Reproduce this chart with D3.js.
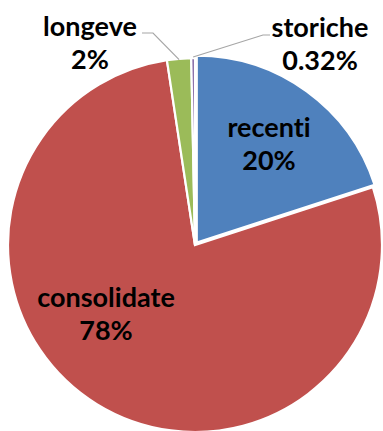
<!DOCTYPE html>
<html>
<head>
<meta charset="utf-8">
<script src="https://cdn.jsdelivr.net/npm/d3@7"></script>
<style>
  html, body { margin: 0; padding: 0; background: #fff; }
  svg { display: block; }
  text { font-variant-ligatures: none; font-feature-settings: "liga" 0; }
</style>
</head>
<body>
<svg id="chart" width="383" height="431"></svg>
<script>
// ---- data ----
const categories = ["recenti", "consolidate", "longeve", "storiche"];
const values = [20.0, 77.6, 2.08, 0.32];          // percent
const valueLabels = ["20%", "78%", "2%", "0.32%"];
const colors = ["#4f81bd", "#c0504d", "#9bbb59", "#8064a2"];

// ---- layout ----
const W = 383, H = 431;
const cx = 195, cy = 245, R = 187;
const explode = [3, 0, 0, 0];

const svg = d3.select("#chart");
const g = svg.append("g").attr("transform", `translate(${cx},${cy})`);

const pie = d3.pie().sort(null).value(d => d.v);
const data = categories.map((c, i) => ({ c, v: values[i], lab: valueLabels[i], col: colors[i], ex: explode[i] }));
const arcs = pie(data);
const arc = d3.arc().innerRadius(0).outerRadius(R);

g.selectAll("path.slice")
  .data(arcs)
  .join("path")
  .attr("class", "slice")
  .attr("d", arc)
  .attr("fill", d => d.data.col)
  .attr("stroke", "#fff")
  .attr("stroke-width", 2.2)
  .attr("stroke-linejoin", "miter")
  .attr("transform", d => {
    const a = (d.startAngle + d.endAngle) / 2;
    return `translate(${Math.sin(a) * d.data.ex},${-Math.cos(a) * d.data.ex})`;
  });

// label anchor positions (absolute, centre of text block)
const labelPos = {
  recenti: [269, 137],
  consolidate: [106, 307],
  longeve: [90, 36],
  storiche: [320, 37]
};
const lineGap = 33;
const font = "Lato, 'Open Sans', sans-serif";

const labels = svg.append("g");
data.forEach(d => {
  const [x, y] = labelPos[d.c];
  const t = labels.append("text")
    .attr("x", x).attr("y", y)
    .attr("text-anchor", "middle")
    .attr("font-family", font)
    .attr("font-weight", "bold")
    .attr("font-size", 27)
    .attr("fill", "#000");
  t.append("tspan").attr("x", x).attr("y", y).text(d.c);
  t.append("tspan").attr("x", x).attr("y", y + lineGap).text(d.lab);
});

// leader lines for outside labels
const pt = (i, r) => {
  const a = arcs[i];
  const m = (a.startAngle + a.endAngle) / 2;
  return [cx + Math.sin(m) * r, cy - Math.cos(m) * r];
};
const lg = svg.append("g").attr("fill", "none").attr("stroke", "#a6a6a6").attr("stroke-width", 1.2);
{
  const p = pt(2, R - 1);
  lg.append("path").attr("d", d3.line()([[142, 33], [153, 33], p]));
}
{
  const p = pt(3, R + 1);
  lg.append("path").attr("d", d3.line()([p, [263, 35], [270, 35]]));
}
</script>
</body>
</html>
